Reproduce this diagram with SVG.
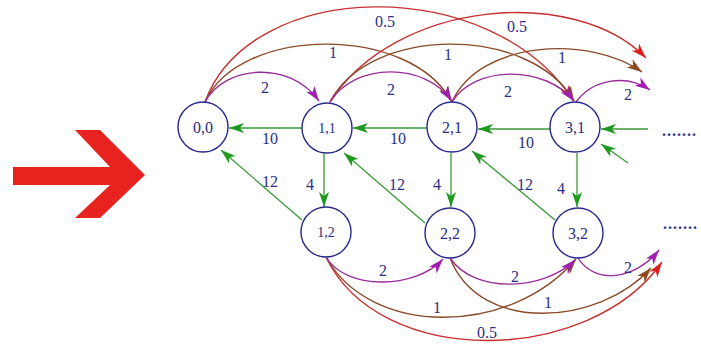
<svg xmlns="http://www.w3.org/2000/svg" width="701" height="348" viewBox="0 0 701 348">
<style>
.node circle{fill:#fff;stroke:#28288c;stroke-width:1.4}
.node text{font-family:"Liberation Serif",serif;fill:#2a2a80;text-anchor:middle}
.lbl{font-family:"Liberation Serif",serif;font-size:16px;fill:#2a2f86;text-anchor:middle}
.g{stroke:#3a9a3a;stroke-width:1.3;fill:none;marker-end:url(#ag)}
.p{stroke:#9a2c9a;stroke-width:1.4;fill:none;marker-end:url(#ap)}
.b{stroke:#8a4a2a;stroke-width:1.4;fill:none;marker-end:url(#ab)}
.r{stroke:#c83030;stroke-width:1.4;fill:none;marker-end:url(#ar)}
</style>
<defs>
<marker id="ag" markerUnits="userSpaceOnUse" markerWidth="16" markerHeight="12" refX="15" refY="5" orient="auto"><path d="M0,0 L15,5 L0,10 L4,5 z" fill="#1f9a1f"/></marker>
<marker id="ap" markerUnits="userSpaceOnUse" markerWidth="16" markerHeight="12" refX="15" refY="5" orient="auto"><path d="M0,0 L15,5 L0,10 L4,5 z" fill="#a020b0"/></marker>
<marker id="ab" markerUnits="userSpaceOnUse" markerWidth="16" markerHeight="12" refX="15" refY="5" orient="auto"><path d="M0,0 L15,5 L0,10 L4,5 z" fill="#8b4a20"/></marker>
<marker id="ar" markerUnits="userSpaceOnUse" markerWidth="16" markerHeight="12" refX="15" refY="5" orient="auto"><path d="M0,0 L15,5 L0,10 L4,5 z" fill="#d82020"/></marker>
</defs>
<rect width="701" height="348" fill="#fff"/>
<polygon id="bigarrow" points="13,167 110,167 75,130 100,130 145,175 100,218 75,218 110,185 13,185" fill="#e8231f"/>
<g id="connectors">
<path class="g" d="M302,128 L229,128"/>
<path class="g" d="M427,128 L353,128"/>
<path class="g" d="M550,129 L478,129"/>
<path class="g" d="M648,129 L601,129"/>
<path class="g" d="M628,163 L601,144"/>
<path class="g" d="M324,153 L324,207"/>
<path class="g" d="M451,153 L451,207"/>
<path class="g" d="M577,153 L577,207"/>
<path class="g" d="M302,220 L221,150"/>
<path class="g" d="M425,223 L344,153"/>
<path class="g" d="M555,220 L472,151"/>
<path class="r" d="M205,102 C250,-22 490,-27 573,100"/>
<path class="b" d="M205,102 C240,25 410,25 451,101"/>
<path class="p" d="M205,102 C225,65 290,60 319,101"/>
<path class="r" d="M330,102 C395,0 575,-15 646,58"/>
<path class="b" d="M330,102 C370,25 530,25 574,101"/>
<path class="p" d="M330,102 C355,62 425,62 452,101"/>
<path class="b" d="M452,102 C480,40 590,35 642,72"/>
<path class="p" d="M452,102 C475,65 545,65 574,101"/>
<path class="p" d="M576,102 C592,80 625,73 650,90"/>
<path class="r" d="M326,257 C380,370 590,365 662,262"/>
<path class="b" d="M326,257 C370,337 510,337 576,259"/>
<path class="p" d="M326,257 C345,290 415,290 443,259"/>
<path class="b" d="M450,258 C480,335 600,325 651,268"/>
<path class="p" d="M450,258 C475,295 545,290 575,260"/>
<path class="p" d="M578,258 C595,285 635,280 659,250"/>
</g>
<g id="n00" class="node"><circle cx="203" cy="127" r="25"/><text x="203" y="133" font-size="16">0,0</text></g>
<g id="n11" class="node"><circle cx="327" cy="128" r="25"/><text x="327" y="133" font-size="14">1,1</text></g>
<g id="n21" class="node"><circle cx="452" cy="127" r="25"/><text x="452" y="133" font-size="16">2,1</text></g>
<g id="n31" class="node"><circle cx="575" cy="127" r="25"/><text x="575" y="133" font-size="16">3,1</text></g>
<g id="n12" class="node"><circle cx="326" cy="232" r="25"/><text x="326" y="237" font-size="14">1,2</text></g>
<g id="n22" class="node"><circle cx="450" cy="233" r="25"/><text x="450" y="239" font-size="16">2,2</text></g>
<g id="n32" class="node"><circle cx="578" cy="233" r="25"/><text x="578" y="239" font-size="16">3,2</text></g>
<g id="labels">
<text class="lbl" x="270" y="144">10</text>
<text class="lbl" x="398" y="144">10</text>
<text class="lbl" x="526" y="148">10</text>
<text class="lbl" x="310" y="190">4</text>
<text class="lbl" x="437" y="190">4</text>
<text class="lbl" x="561" y="194">4</text>
<text class="lbl" x="270" y="187">12</text>
<text class="lbl" x="397" y="190">12</text>
<text class="lbl" x="525" y="190">12</text>
<text class="lbl" x="265" y="93">2</text>
<text class="lbl" x="391" y="95">2</text>
<text class="lbl" x="508" y="97">2</text>
<text class="lbl" x="628" y="100">2</text>
<text class="lbl" x="333" y="58">1</text>
<text class="lbl" x="448" y="60">1</text>
<text class="lbl" x="562" y="63">1</text>
<text class="lbl" x="385" y="27">0.5</text>
<text class="lbl" x="517" y="32">0.5</text>
<text class="lbl" x="383" y="276">2</text>
<text class="lbl" x="515" y="282">2</text>
<text class="lbl" x="628" y="273">2</text>
<text class="lbl" x="437" y="313">1</text>
<text class="lbl" x="548" y="308">1</text>
<text class="lbl" x="487" y="338">0.5</text>
<text class="lbl" x="662" y="136" style="text-anchor:start;letter-spacing:1px;font-weight:bold">.......</text>
<text class="lbl" x="663" y="229" style="text-anchor:start;letter-spacing:1px;font-weight:bold">.......</text>
</g>
</svg>
